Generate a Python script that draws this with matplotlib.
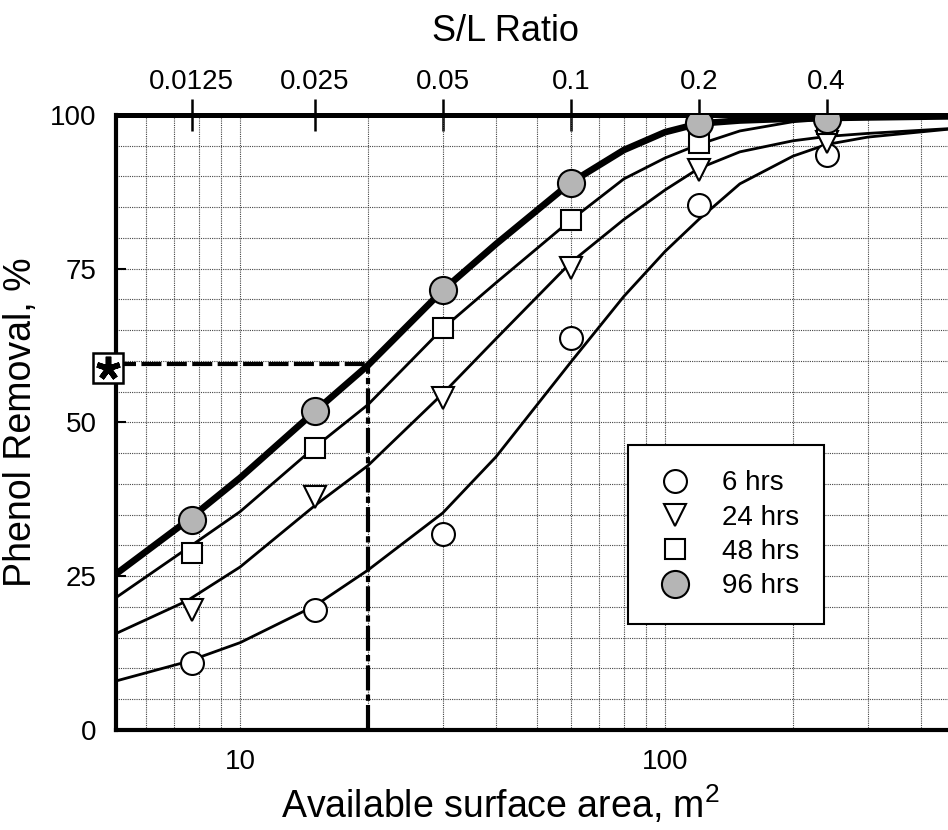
import matplotlib
matplotlib.use("Agg")
import matplotlib.pyplot as plt
import matplotlib.transforms as mtransforms
from matplotlib.lines import Line2D
from matplotlib.ticker import MultipleLocator, NullFormatter

plt.rcParams['font.family'] = 'Liberation Sans'
plt.rcParams['mathtext.fontset'] = 'custom'
plt.rcParams['mathtext.rm'] = 'Liberation Sans'

# measured phenol removal (%) vs available surface area (m2)
area = [7.7, 15, 30, 60, 120, 240]
removal_6h = [10.9, 19.5, 31.9, 63.7, 85.4, 93.5]
removal_24h = [19.5, 37.9, 54.0, 75.1, 91.0, 95.6]
removal_48h = [28.7, 45.8, 65.3, 82.9, 95.4, 98.5]
removal_96h = [34.1, 51.8, 71.5, 89.0, 98.7, 99.3]

# fitted curves
curve_area = [5, 7.5, 10, 15, 20, 30, 40, 60, 80, 100, 120, 150, 200, 240, 300, 500]
curve_6h = [7.8, 11.1, 14.2, 20.2, 26.0, 35.3, 44.4, 59.8, 70.5, 77.8, 83.0, 88.8, 93.3, 95.2, 96.4, 97.9]
curve_24h = [15.4, 21.0, 26.5, 36.5, 43.0, 54.7, 63.6, 76.0, 83.0, 87.8, 91.3, 94.0, 95.8, 96.5, 97.0, 97.9]
curve_48h = [21.1, 29.5, 35.5, 46.0, 52.9, 65.3, 72.7, 82.9, 89.6, 93.0, 95.2, 97.4, 98.9, 99.3, 99.5, 99.7]
curve_96h = [24.9, 34.0, 41.0, 51.8, 59.3, 71.5, 79.0, 89.0, 94.3, 97.2, 98.6, 99.1, 99.4, 99.5, 99.6, 99.8]

labels = ['6 hrs', '24 hrs', '48 hrs', '96 hrs']

# top axis: S/L ratio of each test (one per data column)
sl_labels = ['0.0125', '0.025', '0.05', '0.1', '0.2', '0.4']

x_ticks = [10, 100]
x_ticklabels = ['10', '100']
y_ticks = [0, 25, 50, 75, 100]

# design point (dashed guide lines)
target_area = 20
target_removal = 59.5

GREY_FILL = '#b5b5b5'

fig = plt.figure(figsize=(9.48, 8.3), dpi=100)
ax = fig.add_axes([0.1222, 0.1205, 0.8926, 0.741])

ax.set_xscale('log')
ax.set_xlim(5.1, 500)
ax.set_ylim(0, 100)

# grid
ax.yaxis.set_minor_locator(MultipleLocator(5))
ax.grid(which='both', axis='both', color='#444444', lw=0.8, ls=(0, (1, 1)), zorder=0)
ax.set_axisbelow(True)

# curves
ax.plot(curve_area, curve_6h, color='black', lw=2, zorder=3)
ax.plot(curve_area, curve_24h, color='black', lw=2, zorder=3)
ax.plot(curve_area, curve_48h, color='black', lw=2, zorder=3)
ax.plot(curve_area, curve_96h, color='black', lw=4.8, zorder=3.5)

# data points
mk = dict(ls='none', mec='black', mew=1.5, zorder=5)
ax.plot(area, removal_6h, marker='o', ms=16.5, mfc='white', **mk)
ax.plot(area, removal_24h, marker='v', ms=15.5, mfc='white', **mk)
ax.plot(area, removal_48h, marker='s', ms=14.5, mfc='white', **mk)
ax.plot(area, removal_96h, marker='o', ms=19.5, mfc=GREY_FILL, **mk)

# guide lines to the design point
ax.hlines(target_removal, ax.get_xlim()[0], target_area, color='black', lw=3,
          linestyles=(0, (4.8, 1.3)), zorder=4)
ax.vlines(target_area, 0, target_removal, color='black', lw=3,
          linestyles=(0, (6, 1, 1.5, 1)), zorder=4)
trans = mtransforms.blended_transform_factory(ax.transAxes, ax.transData)
ax.plot([-0.0098], [target_removal - 0.6], marker='s', ms=22, mfc='white', mec='black',
        mew=1.8, transform=trans, clip_on=False, zorder=6)
ax.plot([-0.0098], [target_removal - 0.6], marker=(5, 2, 0), ms=17, mec='black',
        mew=4, transform=trans, clip_on=False, zorder=7)

# axes styling
ax.set_xticks(x_ticks, x_ticklabels)
ax.xaxis.set_minor_formatter(NullFormatter())
ax.set_yticks(y_ticks)
ax.tick_params(axis='x', which='both', length=0, labelsize=20, pad=14, top=False)
ax.tick_params(axis='y', which='major', direction='in', length=7, width=1.5,
               labelsize=20, pad=14)
ax.tick_params(axis='y', which='minor', length=0)
for side in ['left', 'bottom']:
    ax.spines[side].set_linewidth(3)
ax.spines['top'].set_linewidth(3.6)
ax.spines['right'].set_visible(False)

ax.set_xlabel('Available surface area, m$^2$', fontsize=27, labelpad=6)
ax.xaxis.label.set_x(0.454)
ax.set_ylabel('Phenol Removal, %', fontsize=27, labelpad=8)

# S/L ratio axis on top, ticks at the tested areas
sec = ax.secondary_xaxis('top')
sec.set_xticks(area, sl_labels)
sec.xaxis.set_minor_formatter(NullFormatter())
sec.tick_params(which='major', direction='inout', length=23, width=1.8, labelsize=20, pad=3)
sec.tick_params(which='minor', length=0)
for s in sec.spines.values():
    s.set_visible(False)
sec.set_xlabel('S/L Ratio', fontsize=26, labelpad=20)
sec.xaxis.label.set_x(0.46)

# legend
handles = [
    Line2D([], [], ls='none', marker='o', ms=16.5, mfc='white', mec='black', mew=1.5),
    Line2D([], [], ls='none', marker='v', ms=15.5, mfc='white', mec='black', mew=1.5),
    Line2D([], [], ls='none', marker='s', ms=14.5, mfc='white', mec='black', mew=1.5),
    Line2D([], [], ls='none', marker='o', ms=19.5, mfc=GREY_FILL, mec='black', mew=1.5),
]
leg = ax.legend(handles=handles, labels=labels, loc='upper left',
                bbox_to_anchor=(0.605, 0.463), fontsize=20, frameon=True,
                fancybox=False, edgecolor='black', framealpha=1,
                borderaxespad=0, borderpad=0.9, labelspacing=0.3,
                handlelength=1.6, handletextpad=0.9)
leg.get_frame().set_linewidth(1.5)
leg.set_zorder(8)

fig.savefig('out.png', dpi=100)
